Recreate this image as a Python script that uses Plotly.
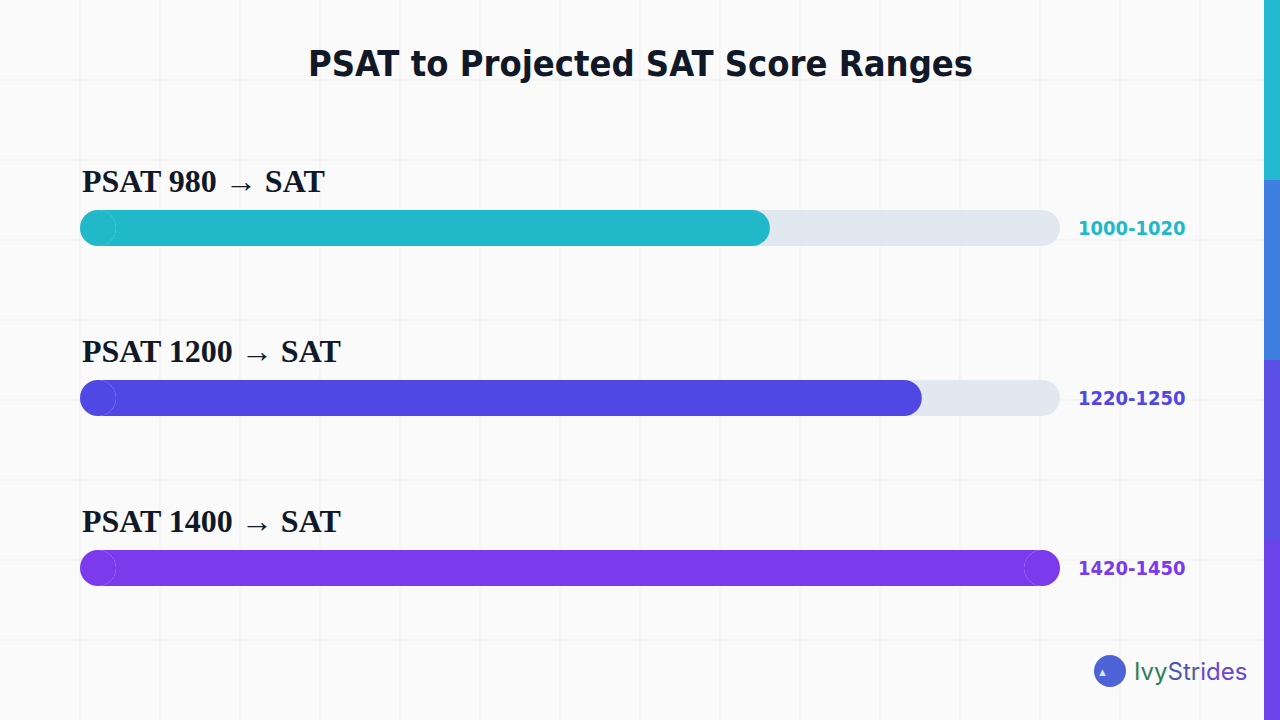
import plotly.graph_objects as go

# data
labels = ["PSAT 980 → SAT", "PSAT 1200 → SAT", "PSAT 1400 → SAT"]
ranges = ["1000-1020", "1220-1250", "1420-1450"]
fill_pct = [70.4, 85.9, 100.0]
colors = ["#21b8c9", "#5147e5", "#7c3aed"]
row_y = [228, 398, 568]

W, H = 1280, 720
X0, X1 = 80, 1060
px_per_unit = (X1 - X0) / 100
BAR_H = 36
cap = (BAR_H / 2) / px_per_unit  # rounded end radius in x units
NARROW = "DejaVu Sans Condensed, sans-serif"

fig = go.Figure()

for lab, rng, pct, col, y in zip(labels, ranges, fill_pct, colors, row_y):
    # track
    fig.add_trace(go.Bar(x=[100 - 2 * cap], base=[cap], y=[y], width=BAR_H, orientation="h",
                         marker=dict(color="#e2e8f0", line=dict(width=0)), hoverinfo="skip"))
    fig.add_trace(go.Scatter(x=[cap, 100 - cap], y=[y, y], mode="markers",
                             marker=dict(size=BAR_H, color="#e2e8f0", line=dict(width=0)), hoverinfo="skip"))
    # fill
    fig.add_trace(go.Bar(x=[pct - 2 * cap], base=[cap], y=[y], width=BAR_H, orientation="h",
                         marker=dict(color=col, line=dict(width=0)), hoverinfo="skip"))
    fig.add_trace(go.Scatter(x=[cap, pct - cap], y=[y, y], mode="markers",
                             marker=dict(size=BAR_H, color=col, line=dict(width=0)), hoverinfo="skip"))
    fig.add_annotation(x=X0 / W, y=1 - (y - 47) / H, xref="paper", yref="paper", text=f"<b>{lab}</b>",
                       showarrow=False, xanchor="left", yanchor="middle",
                       font=dict(family="Liberation Serif", size=32, color="#111827"))
    fig.add_annotation(x=1076 / W, y=1 - y / H, xref="paper", yref="paper", text=f"<b>{rng}</b>",
                       showarrow=False, xanchor="left", yanchor="middle",
                       font=dict(family=NARROW, size=20, color=col))

shapes = []
for gx in range(80, W, 80):
    shapes.append(dict(type="line", xref="paper", yref="paper", x0=gx / W, x1=gx / W, y0=0, y1=1,
                       line=dict(color="#efefef", width=1), layer="below"))
for gy in range(80, H, 80):
    shapes.append(dict(type="line", xref="paper", yref="paper", x0=0, x1=1, y0=1 - gy / H, y1=1 - gy / H,
                       line=dict(color="#efefef", width=1), layer="below"))
# right accent strip
strip = ["#22b8cf", "#3f7fe0", "#5b4fe6", "#6d44ea"]
for i, c in enumerate(strip):
    shapes.append(dict(type="rect", xref="paper", yref="paper", x0=1264 / W, x1=1,
                       y0=1 - (i + 1) / len(strip), y1=1 - i / len(strip),
                       fillcolor=c, line=dict(width=0)))
# logo circle
shapes.append(dict(type="circle", xref="paper", yref="paper", x0=1094 / W, x1=1126 / W,
                   y0=1 - 687 / H, y1=1 - 655 / H, fillcolor="#4f63d9", line=dict(width=0)))
fig.update_layout(shapes=shapes)

fig.add_annotation(x=0.5, y=1 - 63 / H, xref="paper", yref="paper", yanchor="middle",
                   text="<b>PSAT to Projected SAT Score Ranges</b>",
                   showarrow=False, font=dict(family=NARROW, size=36, color="#111827"))
fig.add_annotation(x=1110 / W, y=1 - 671 / H, xref="paper", yref="paper", yanchor="middle", text="▲",
                   showarrow=False, font=dict(size=11, color="#dbe4f5"))
fig.add_annotation(x=1132 / W, y=1 - 671 / H, xref="paper", yref="paper", xanchor="left", yanchor="middle",
                   text="<span style='color:#2f7d5a'>Ivy</span><span style='color:#4b5aa8'>Str</span><span style='color:#6a45d0'>ides</span>",
                   showarrow=False, font=dict(family="Inter", size=24))

fig.update_layout(
    width=W, height=H, margin=dict(l=0, r=0, t=0, b=0),
    paper_bgcolor="#fafafa", plot_bgcolor="rgba(0,0,0,0)",
    showlegend=False, barmode="overlay",
    xaxis=dict(domain=[X0 / W, X1 / W], range=[0, 100], visible=False, fixedrange=True),
    yaxis=dict(range=[H, 0], visible=False, fixedrange=True),
)
fig.write_html("out.html", config={"displayModeBar": False},
               post_script="document.body.style.margin='0';")
